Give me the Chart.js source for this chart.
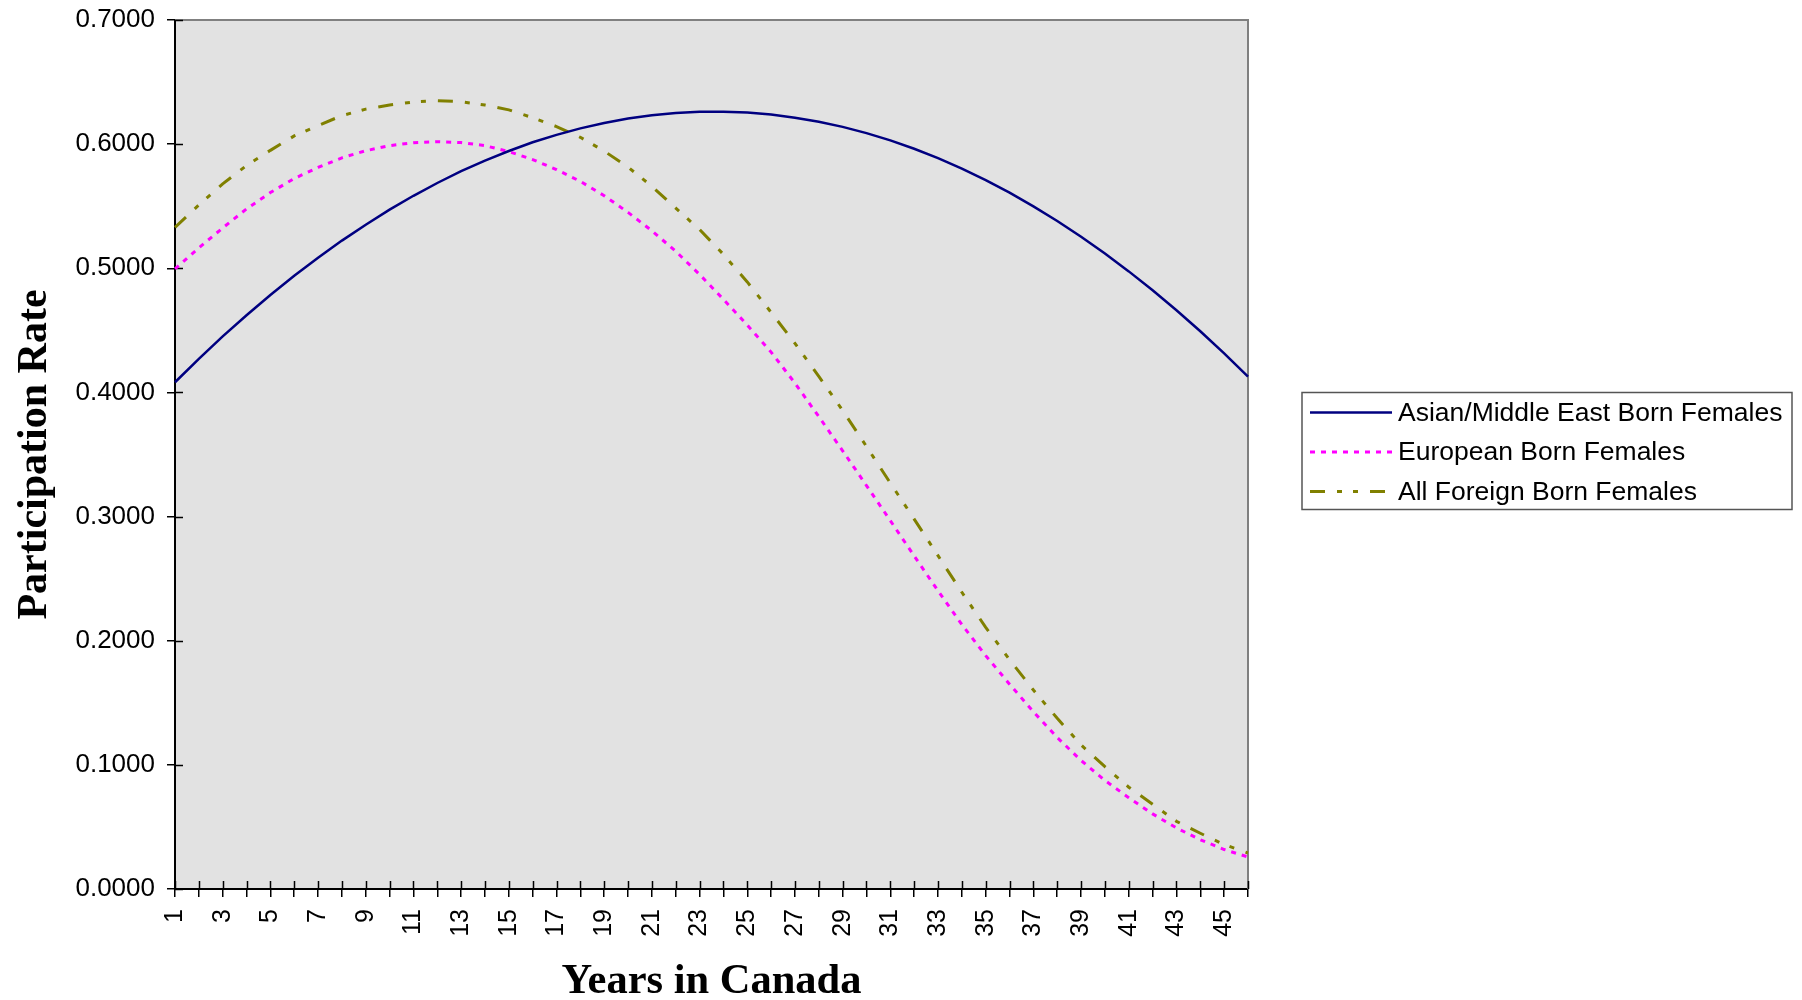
<!DOCTYPE html>
<html>
<head>
<meta charset="utf-8">
<script src="https://cdn.jsdelivr.net/npm/chart.js@4.4.0/dist/chart.umd.min.js"></script>
<style>
html,body{margin:0;padding:0;background:#fff;}
#wrap{width:1802px;height:1000px;}
</style>
</head>
<body>
<div id="wrap"><canvas id="c" width="1802" height="1000"></canvas></div>
<script>
const years = [1,2,3,4,5,6,7,8,9,10,11,12,13,14,15,16,17,18,19,20,21,22,23,24,25,26,27,28,29,30,31,32,33,34,35,36,37,38,39,40,41,42,43,44,45,46];
const asianMiddleEast = [0.4082,0.4271,0.4451,0.4622,0.4785,0.4939,0.5085,0.5223,0.5351,0.5472,0.5584,0.5687,0.5782,0.5868,0.5945,0.6015,0.6075,0.6127,0.6171,0.6206,0.6233,0.6251,0.6260,0.6261,0.6254,0.6238,0.6213,0.6180,0.6139,0.6089,0.6030,0.5963,0.5887,0.5803,0.5710,0.5609,0.5499,0.5381,0.5254,0.5119,0.4975,0.4823,0.4662,0.4493,0.4315,0.4128];
const european = [0.4995,0.5165,0.5325,0.5478,0.5610,0.5723,0.5812,0.5890,0.5947,0.5988,0.6012,0.6020,0.6013,0.5988,0.5940,0.5876,0.5795,0.5700,0.5585,0.5450,0.5302,0.5137,0.4950,0.4750,0.4543,0.4325,0.4075,0.3805,0.3530,0.3250,0.2967,0.2683,0.2402,0.2130,0.1880,0.1650,0.1428,0.1220,0.1035,0.0875,0.0735,0.0605,0.0492,0.0397,0.0318,0.0258];
const allForeign = [0.5330,0.5510,0.5680,0.5828,0.5950,0.6066,0.6150,0.6230,0.6282,0.6315,0.6340,0.6350,0.6342,0.6315,0.6276,0.6213,0.6142,0.6055,0.5944,0.5815,0.5660,0.5485,0.5312,0.5112,0.4890,0.4645,0.4395,0.4130,0.3855,0.3565,0.3270,0.2980,0.2685,0.2390,0.2108,0.1847,0.1603,0.1375,0.1160,0.0985,0.0820,0.0683,0.0545,0.0449,0.0358,0.0290];
const seriesNames = ['Asian/Middle East Born Females','European Born Females','All Foreign Born Females'];
const yMin = 0, yMax = 0.7, yStep = 0.1;
const xTitle = 'Years in Canada';
const yTitle = 'Participation Rate';

const plotBg = {
  id: 'plotBg',
  beforeDraw(chart) {
    const {ctx, chartArea: a} = chart;
    ctx.save();
    ctx.fillStyle = '#E2E2E2';
    ctx.fillRect(a.left, a.top, a.right - a.left, a.bottom - a.top);
    ctx.restore();
  },
  beforeDatasetsDraw(chart) {
    const {ctx, chartArea: a, scales} = chart;
    ctx.save();
    ctx.strokeStyle = '#808080';
    ctx.lineWidth = 2;
    ctx.beginPath();
    ctx.moveTo(a.left, a.top);
    ctx.lineTo(a.right, a.top);
    ctx.lineTo(a.right, a.bottom);
    ctx.stroke();
    ctx.strokeStyle = '#000';
    ctx.lineWidth = 1.5;
    ctx.beginPath();
    const xs = scales.x;
    xs.ticks.forEach((t, i) => {
      const px = Math.round(xs.getPixelForTick(i)) + 0.5;
      ctx.moveTo(px, a.bottom);
      ctx.lineTo(px, a.bottom - 8);
    });
    const ys = scales.y;
    ys.ticks.forEach((t, i) => {
      const py = Math.round(ys.getPixelForTick(i)) + 0.5;
      ctx.moveTo(a.left, py);
      ctx.lineTo(a.left + 8, py);
    });
    ctx.stroke();
    ctx.restore();
  }
};

const boxLegend = {
  id: 'boxLegend',
  afterDraw(chart) {
    const {ctx, chartArea: a} = chart;
    const left = a.right + 54, width = 490, height = 117;
    const top = (a.top + a.bottom) / 2 - 62;
    ctx.save();
    ctx.strokeStyle = '#555';
    ctx.lineWidth = 1.5;
    ctx.strokeRect(left, top, width, height);
    ctx.font = '26.5px "Liberation Sans", Arial, sans-serif';
    ctx.textBaseline = 'middle';
    ctx.fillStyle = '#000';
    chart.data.datasets.forEach((ds, i) => {
      const cy = top + 20 + i * 39.5;
      ctx.save();
      ctx.strokeStyle = ds.borderColor;
      ctx.lineWidth = ds.borderWidth;
      ctx.setLineDash(ds.borderDash || []);
      ctx.beginPath();
      ctx.moveTo(left + 8, cy);
      ctx.lineTo(left + 90, cy);
      ctx.stroke();
      ctx.restore();
      ctx.fillText(ds.label, left + 96, cy + 1);
    });
    ctx.restore();
  }
};

new Chart(document.getElementById('c'), {
  type: 'line',
  data: {
    labels: years,
    datasets: [
      {label: seriesNames[0], data: asianMiddleEast, borderColor: '#000080', borderWidth: 2.5, pointRadius: 0, tension: 0, fill: false},
      {label: seriesNames[1], data: european, borderColor: '#FF00FF', borderWidth: 3, borderDash: [5, 6], pointRadius: 0, tension: 0, fill: false},
      {label: seriesNames[2], data: allForeign, borderColor: '#808000', borderWidth: 3, borderDash: [15, 12, 5, 11, 5, 12], pointRadius: 0, tension: 0, fill: false}
    ]
  },
  options: {
    responsive: false,
    devicePixelRatio: 1,
    animation: false,
    layout: {padding: {left: 0, right: 554, top: 20, bottom: 0}},
    plugins: {legend: {display: false}, tooltip: {enabled: false}},
    scales: {
      x: {
        type: 'category',
        offset: false,
        grid: {display: true, drawOnChartArea: false, drawTicks: true, tickLength: 8, color: '#000', lineWidth: 1.5},
        border: {display: true, color: '#000', width: 2},
        ticks: {
          autoSkip: false, maxRotation: 90, minRotation: 90, padding: 12, color: '#000',
          font: {family: '"Liberation Sans", Arial, sans-serif', size: 25},
          callback: function(v, i) { return (years[i] % 2 === 1) ? String(years[i]) : ''; }
        },
        title: {display: true, text: xTitle, color: '#000', padding: {top: 0, bottom: 0},
          font: {family: '"Liberation Serif", "Times New Roman", serif', size: 42.5, weight: 'bold', lineHeight: 0.85}},
        afterFit(s) { s.height = 111; s.paddingLeft = 0; s.paddingRight = 0; }
      },
      y: {
        min: yMin, max: yMax,
        grid: {display: true, drawOnChartArea: false, drawTicks: true, tickLength: 8, color: '#000', lineWidth: 1.5},
        border: {display: true, color: '#000', width: 2},
        ticks: {stepSize: yStep, padding: 12, color: '#000',
          font: {family: '"Liberation Sans", Arial, sans-serif', size: 26},
          callback: v => Number(v).toFixed(4)},
        title: {display: true, text: yTitle, color: '#000', padding: {top: 14, bottom: 0},
          font: {family: '"Liberation Serif", "Times New Roman", serif', size: 42, weight: 'bold', lineHeight: 1.0}},
        afterFit(s) { s.width = 175; s.paddingTop = 4; s.paddingBottom = 4; }
      }
    }
  },
  plugins: [plotBg, boxLegend]
});
</script>
</body>
</html>
